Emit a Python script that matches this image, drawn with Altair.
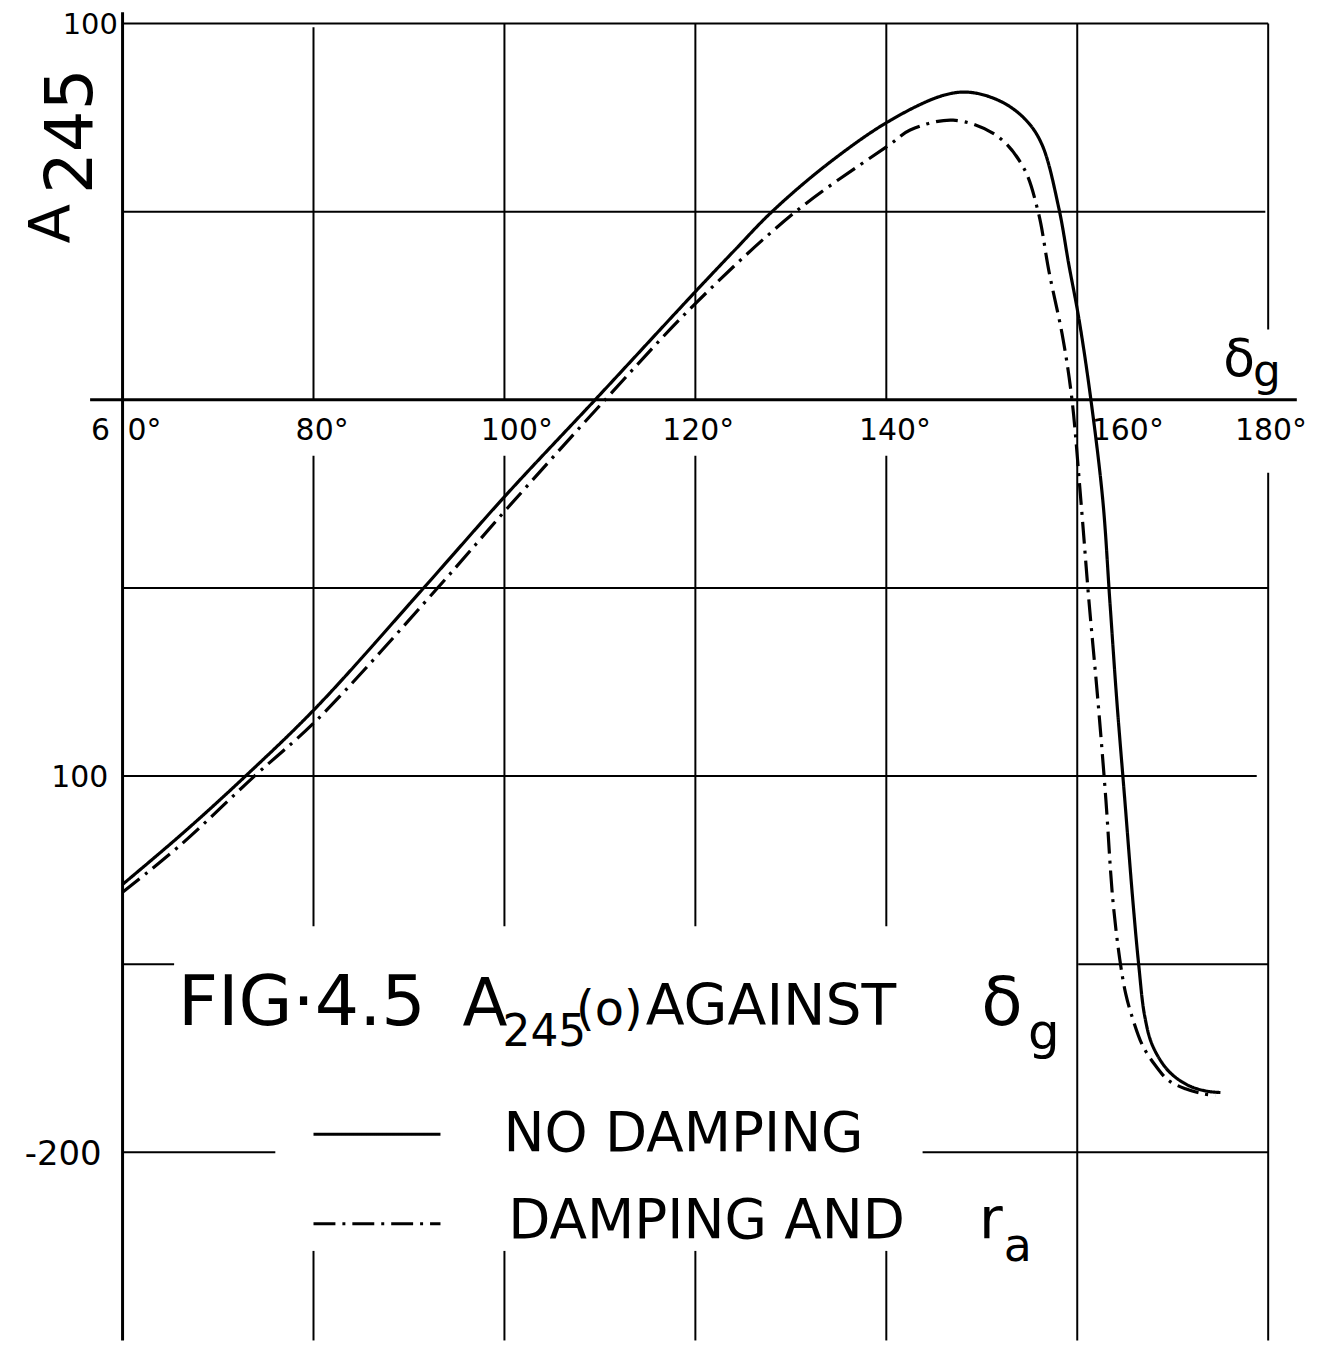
import altair as alt
import pandas as pd

# ---------------- data ----------------
# NO DAMPING (solid)
nd_x = [60.0, 66.26, 72.8, 80.35, 91.51, 100.28, 109.67, 120.21, 124.17, 128.03, 133.98, 140.45,
        145.98, 148.8, 152.14, 154.64, 156.31, 158.08, 159.12, 160.17, 161.42, 162.68,
        163.41, 164.14, 164.98, 165.81, 166.44, 167.06, 167.9, 169.6, 171.7, 173.7, 175.0]
nd_y = [-128.8, -115.3, -100.2, -81.6, -50.1, -25.0, 0.45, 29.3, 39.9, 50.0, 62.9, 74.3,
        80.9, 81.7, 79.1, 74.3, 67.8, 50.8, 35.9, 21.6, 0.2, -26.8,
        -53.3, -79.8, -106.3, -132.7, -150.2, -163.7, -171.7, -178.5, -182.3, -183.8, -184.1]
# DAMPING AND r_a (dash-dot)
dr_x = [60.0, 66.26, 73.73, 80.35, 92.97, 100.28, 110.71, 120.21, 130.75, 140.45, 142.5,
        147.0, 151.5, 154.33, 155.9, 157.04, 158.5, 159.44, 160.38, 161.22, 162.16,
        163.0, 163.72, 164.45, 165.08, 165.81, 166.86, 168.21, 169.57, 171.34, 173.11, 174.47]
dr_y = [-130.9, -117.9, -100.2, -85.1, -50.1, -28.9, 0.45, 26.1, 50.5, 68.0, 71.7,
        74.3, 70.3, 61.9, 50.0, 34.1, 16.3, 0.2, -26.8, -53.3, -79.8,
        -106.3, -132.7, -148.6, -157.9, -164.5, -171.7, -177.0, -180.9, -183.1, -184.4, -184.9]

series_names = ["NO DAMPING", "DAMPING AND r_a"]

x_tick_labels = ["6", "0°", "80°", "100°", "120°", "140°", "160°", "180°"]
y_tick_labels = ["100", "100", "-200"]

# grid segments (vertical: x, y from, y to ; horizontal: y, x from, x to)
v_x = [80, 80, 80, 100, 100, 100, 120, 120, 120, 140, 140, 140, 160, 180, 180]
v_y1 = [99, -14.9, -226.2, 100, -14.9, -226.2, 100, -14.9, -226.2, 100, -14.9, -226.2, 100, 100, -19.4]
v_y2 = [0, -139.9, -250, 0, -139.9, -250, 0, -139.9, -250, 0, -139.9, -250, -250, 18.7, -250]
h_y = [100, 50, -50, -100, -150, -150, -200, -200]
h_x1 = [60, 60, 60, 60, 60, 160.1, 60, 143.8]
h_x2 = [180, 179.7, 180, 178.8, 65.4, 180, 76.0, 180]

XS = alt.Scale(domain=[60, 180], nice=False, zero=False)
YS = alt.Scale(domain=[-250, 100], nice=False, zero=False)
FONT = "DejaVu Sans"
DASH = alt.Scale(domain=series_names, range=[[1, 0], [22, 7, 3, 7]])

# ---------------- grid ----------------
vdf = pd.DataFrame({"x": v_x, "y1": v_y1, "y2": v_y2})
hdf = pd.DataFrame({"y": h_y, "x1": h_x1, "x2": h_x2})

vgrid = alt.Chart(vdf).mark_rule(color="black", strokeWidth=2).encode(
    x=alt.X("x:Q", scale=XS, axis=None),
    y=alt.Y("y1:Q", scale=YS, axis=None), y2="y2:Q")
hgrid = alt.Chart(hdf).mark_rule(color="black", strokeWidth=2).encode(
    y=alt.Y("y:Q", scale=YS, axis=None),
    x=alt.X("x1:Q", scale=XS, axis=None), x2="x2:Q")

axes_df = pd.DataFrame({"x1": [60, 56.6], "x2": [60, 183.0], "y1": [103, 0], "y2": [-250, 0]})
axes = alt.Chart(axes_df).mark_rule(color="black", strokeWidth=3).encode(
    x=alt.X("x1:Q", scale=XS, axis=None), x2="x2:Q",
    y=alt.Y("y1:Q", scale=YS, axis=None), y2="y2:Q")

# ---------------- curves ----------------
curves = pd.DataFrame({
    "x": nd_x + dr_x,
    "y": nd_y + dr_y,
    "series": [series_names[0]] * len(nd_x) + [series_names[1]] * len(dr_x),
})
lines = alt.Chart(curves).mark_line(color="black", strokeWidth=3.2, interpolate="catmull-rom").encode(
    x=alt.X("x:Q", scale=XS, axis=None),
    y=alt.Y("y:Q", scale=YS, axis=None),
    strokeDash=alt.StrokeDash("series:N", scale=DASH, legend=None),
    detail="series:N",
)

# ---------------- legend keys ----------------
leg_df = pd.DataFrame({"series": series_names, "x1": [80.0, 80.0], "x2": [93.3, 93.3],
                       "y": [-195.2, -219.0]})
leg_lines = alt.Chart(leg_df).mark_rule(color="black", strokeWidth=3).encode(
    x=alt.X("x1:Q", scale=XS, axis=None), x2="x2:Q",
    y=alt.Y("y:Q", scale=YS, axis=None),
    strokeDash=alt.StrokeDash("series:N", scale=DASH, legend=None),
)

# ---------------- texts ----------------
def texts(rows, align="left", baseline="alphabetic", angle=0):
    df = pd.DataFrame(rows, columns=["t", "x", "y", "s"])
    return alt.Chart(df).mark_text(align=align, baseline=baseline, angle=angle,
                                   font=FONT, color="black").encode(
        x=alt.X("x:Q", scale=XS, axis=None),
        y=alt.Y("y:Q", scale=YS, axis=None),
        text="t:N",
        size=alt.Size("s:Q", scale=None, legend=None),
    )

ytick_top = [[y_tick_labels[0], 59.5, 103.2, 29]]
ytick_rows = [[y_tick_labels[1], 58.5, -100.6, 30],
              [y_tick_labels[2], 57.8, -200.8, 34]]
xtick_rows = [[x_tick_labels[0], 57.7, -8.3, 30], [x_tick_labels[1], 62.3, -8.3, 30],
              [x_tick_labels[2], 80.9, -8.3, 30], [x_tick_labels[3], 101.3, -8.3, 30],
              [x_tick_labels[4], 120.3, -8.3, 30], [x_tick_labels[5], 140.9, -8.3, 30],
              [x_tick_labels[6], 165.3, -8.3, 30], [x_tick_labels[7], 180.3, -8.3, 30]]
left_rows = [
    ["FIG·4.5", 65.8, -166.2, 70],
    ["A", 95.6, -166.2, 66],
    ["245", 99.8, -171.8, 44],
    ["(o)", 107.5, -166.2, 48],
    ["AGAINST", 114.8, -166.2, 57],
    ["δ", 149.95, -166.2, 68],
    ["g", 154.85, -172.5, 50],
    ["NO DAMPING", 99.9, -199.6, 55],
    ["DAMPING AND", 100.4, -222.9, 55],
    ["r", 149.7, -222.9, 58],
    ["a", 152.3, -228.9, 46],
    ["δ", 175.3, 6.3, 52],
    ["g", 178.4, 3.6, 44],
]
rot_rows = [["A", 54.47, 41.5, 58], ["245", 56.76, 54.7, 66]]

t_top = texts(ytick_top, align="right", baseline="top")
t_y = texts(ytick_rows, align="right", baseline="middle")
t_x = texts(xtick_rows, align="center", baseline="middle")
t_l = texts(left_rows)
t_r = texts(rot_rows, angle=270)

chart = alt.layer(vgrid, hgrid, axes, lines, leg_lines, t_top, t_y, t_x, t_l, t_r).properties(
    width=1150, height=1322, autosize="none",
    padding={"left": 115, "top": 13, "right": 48, "bottom": 2},
    background="white",
).configure_view(stroke=None)

chart.save("out.html", embed_options={"renderer": "svg", "actions": False})
